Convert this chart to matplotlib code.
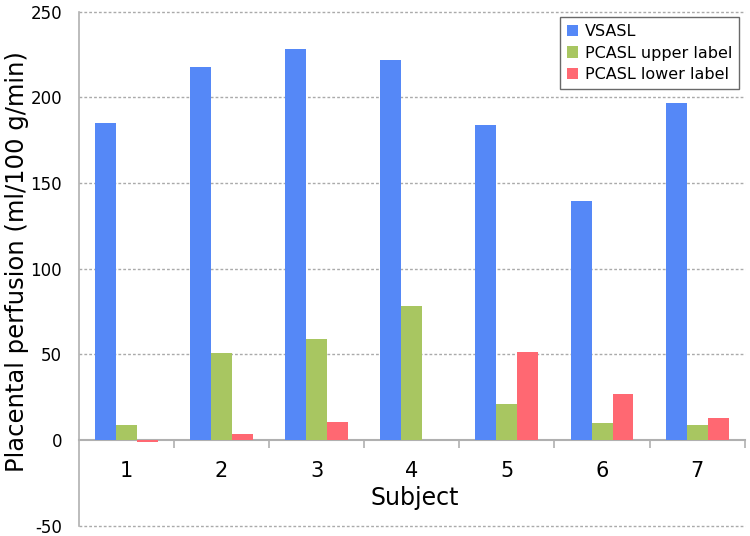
import numpy as np
import matplotlib.pyplot as plt

plt.rcParams['axes.unicode_minus'] = False

subjects = ['1', '2', '3', '4', '5', '6', '7']
vsasl = [185, 218, 228, 222, 184, 139.5, 197]
pcasl_upper = [9, 51, 59, 78, 21, 10, 9]
pcasl_lower = [-1, 3.5, 10.5, 0.3, 51.5, 27, 13]

labels = ['VSASL', 'PCASL upper label', 'PCASL lower label']
colors = ['#5588F7', '#A8C661', '#FF6872']

fig = plt.figure(figsize=(7.5, 5.36), dpi=100)
ax = fig.add_axes([0.105, 0.019, 0.888, 0.959])

x = np.arange(len(subjects))
w = 0.22
for i, vals in enumerate([vsasl, pcasl_upper, pcasl_lower]):
    ax.bar(x + (i - 1) * w, vals, w, color=colors[i], label=labels[i],
           edgecolor='none', zorder=3)

ax.set_xlim(-0.5, len(subjects) - 0.5)
ax.set_ylim(-50, 250)
ax.set_yticks(np.arange(-50, 251, 50))
ax.tick_params(axis='y', length=0, pad=12, labelsize=12)

for yv in np.arange(-50, 251, 50):
    if yv != 0:
        ax.axhline(yv, color='#aaaaaa', lw=1, ls=(0, (2, 1.5)), zorder=1,
                   clip_on=False)

for s in ['top', 'right']:
    ax.spines[s].set_visible(False)
ax.spines['left'].set_color('#b0b0b0')
ax.spines['left'].set_linewidth(1.2)
ax.spines['bottom'].set_position(('data', 0))
ax.spines['bottom'].set_color('#b0b0b0')
ax.spines['bottom'].set_linewidth(1.5)

ax.set_xticks(x)
ax.set_xticklabels(subjects)
ax.set_xticks(np.arange(0.5, len(subjects), 1), minor=True)
ax.tick_params(axis='x', which='major', length=0, pad=15, labelsize=15)
ax.tick_params(axis='x', which='minor', length=6, color='#b0b0b0', width=1.2)

ax.set_ylabel('Placental perfusion (ml/100 g/min)', fontsize=17.5)
ax.yaxis.set_label_coords(-0.074, 0.515)
fig.text(0.553, 0.071, 'Subject', fontsize=17, ha='center', va='center')

leg = ax.legend(loc='upper right', bbox_to_anchor=(0.992, 0.99), fontsize=11.5,
                frameon=True, fancybox=False, handlelength=0.7,
                handleheight=0.7, handletextpad=0.4, borderpad=0.45,
                labelspacing=0.4, borderaxespad=0)
leg.get_frame().set_edgecolor('#444444')
leg.get_frame().set_linewidth(1.0)

fig.savefig('out.png', dpi=100)
